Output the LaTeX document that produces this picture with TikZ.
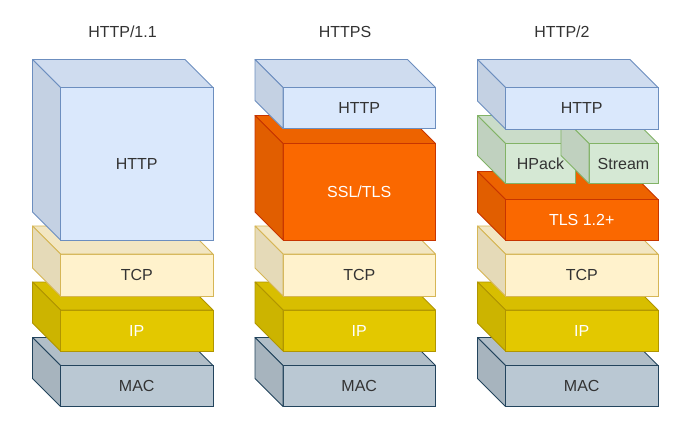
\documentclass[tikz,border=0pt]{standalone}
\usepackage{fontspec}
\setmainfont{Liberation Sans}
\definecolor{txt}{HTML}{333333}
\definecolor{httpF}{HTML}{DAE8FC}\definecolor{httpS}{HTML}{6C8EBF}
\definecolor{tcpF}{HTML}{FFF2CC}\definecolor{tcpS}{HTML}{D6B656}
\definecolor{ipF}{HTML}{E3C800}\definecolor{ipS}{HTML}{B09500}
\definecolor{macF}{HTML}{BAC8D3}\definecolor{macS}{HTML}{23445D}
\definecolor{tlsF}{HTML}{FA6800}\definecolor{tlsS}{HTML}{C73500}
\definecolor{grnF}{HTML}{D5E8D4}\definecolor{grnS}{HTML}{82B366}
\tikzset{
  cubefront/.style={rectangle, inner sep=0pt, outer sep=0pt, anchor=north west,
    line width=0.8pt, font=\fontsize{16}{19}\selectfont},
  title/.style={font=\fontsize{16}{19}\selectfont, text=txt},
}
% #1 name, #2 x, #3 y, #4 w, #5 h, #6 fill, #7 stroke, #8 text colour, #9 text
\newcommand\stackcube[9]{%
  \node[cubefront, fill=#6, draw=#7, text=#8, minimum width=#4pt, minimum height=#5pt] (#1) at (#2,#3) {#9};
  \filldraw[fill=#6!95!black, draw=#7, line width=0.8pt, line join=round]
    (#1.north west) -- ++(-28pt,28pt) -- ([xshift=-28pt,yshift=28pt]#1.north east) -- (#1.north east) -- cycle;
  \filldraw[fill=#6!90!black, draw=#7, line width=0.8pt, line join=round]
    (#1.north west) -- ++(-28pt,28pt) -- ([xshift=-28pt,yshift=28pt]#1.south west) -- (#1.south west) -- cycle;
}
\begin{document}
\begin{tikzpicture}[x=1pt,y=-1pt]
\fill[white] (0,0) rectangle (699,424);
\useasboundingbox (0,0) rectangle (699,424);
\node[title] (t1) at (122.5,32) {HTTP/1.1};
\node[title] (t2) at (345,32) {HTTPS};
\node[title] (t3) at (562,32) {HTTP/2};
% column 1
\stackcube{mac1}{60.5}{365.5}{152.5}{41}{macF}{macS}{txt}{MAC}
\stackcube{ip1}{60.5}{310}{152.5}{41}{ipF}{ipS}{white}{IP}
\stackcube{tcp1}{60.5}{254}{152.5}{42}{tcpF}{tcpS}{txt}{TCP}
\stackcube{http1}{60.5}{87.5}{152.5}{152.5}{httpF}{httpS}{txt}{HTTP}
% column 2
\stackcube{mac2}{283}{365.5}{152.5}{41}{macF}{macS}{txt}{MAC}
\stackcube{ip2}{283}{310}{152.5}{41}{ipF}{ipS}{white}{IP}
\stackcube{tcp2}{283}{254}{152.5}{42}{tcpF}{tcpS}{txt}{TCP}
\stackcube{ssl2}{283}{143.5}{152.5}{96.5}{tlsF}{tlsS}{white}{SSL/TLS}
\stackcube{http2}{283}{87.5}{152.5}{41}{httpF}{httpS}{txt}{HTTP}
% column 3
\stackcube{mac3}{505.5}{365.5}{152.5}{41}{macF}{macS}{txt}{MAC}
\stackcube{ip3}{505.5}{310}{152.5}{41}{ipF}{ipS}{white}{IP}
\stackcube{tcp3}{505.5}{254}{152.5}{42}{tcpF}{tcpS}{txt}{TCP}
\stackcube{tls3}{505.5}{199.5}{152.5}{40.5}{tlsF}{tlsS}{white}{TLS 1.2+}
\stackcube{hpack3}{505.5}{143.5}{70}{40}{grnF}{grnS}{txt}{HPack}
\stackcube{stream3}{589}{143.5}{69}{40}{grnF}{grnS}{txt}{Stream}
\stackcube{http3}{505.5}{87.5}{152.5}{41.5}{httpF}{httpS}{txt}{HTTP}
\end{tikzpicture}
\end{document}
